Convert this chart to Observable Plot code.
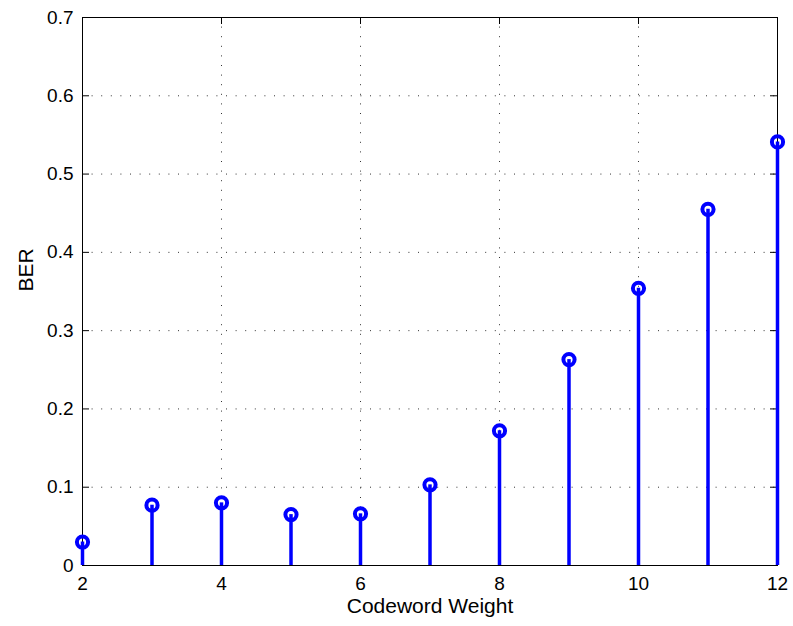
<!DOCTYPE html>
<html>
<head>
<meta charset="utf-8">
<script src="https://cdn.jsdelivr.net/npm/d3@7"></script>
<script src="https://cdn.jsdelivr.net/npm/@observablehq/plot@0.6"></script>
<style>
  html, body { margin: 0; padding: 0; background: #fff; }
  #chart { width: 793px; height: 626px; }
</style>
</head>
<body>
<div id="chart"></div>
<script>
// Codeword weight vs. bit error rate (stem plot)
const weights = [2, 3, 4, 5, 6, 7, 8, 9, 10, 11, 12];
const ber = [0.030, 0.077, 0.080, 0.065, 0.066, 0.103, 0.172, 0.263, 0.354, 0.455, 0.541];

const xTicks = [2, 4, 6, 8, 10, 12];
const yTicks = [0, 0.1, 0.2, 0.3, 0.4, 0.5, 0.6, 0.7];
const xLabel = "Codeword Weight";
const yLabel = "BER";

const data = weights.map((w, i) => ({w, ber: ber[i]}));

const W = 793, H = 626;
const mL = 82, mR = 16, mT = 17, mB = 61;
const frameH = H - mT - mB;
const frameW = W - mL - mR;
const tickLen = 7;
const blue = "#0000ff";
const font = "'Liberation Sans', Arial, Helvetica, sans-serif";

const chart = Plot.plot({
  width: W,
  height: H,
  marginLeft: mL,
  marginRight: mR,
  marginTop: mT,
  marginBottom: mB,
  style: {fontFamily: font, fontSize: "19px", color: "#000", background: "#fff"},
  x: {domain: [2, 12]},
  y: {domain: [0, 0.7]},
  marks: [
    // dotted grid
    Plot.gridX(xTicks, {stroke: "#000", strokeOpacity: 0.8, strokeDasharray: "1,8.6"}),
    Plot.gridY(yTicks, {stroke: "#000", strokeOpacity: 0.8, strokeDasharray: "1,8.6"}),
    // box
    Plot.frame({stroke: "#000", strokeWidth: 1}),
    // inward ticks on all four sides
    Plot.tickX(xTicks, {x: d => d, insetTop: frameH - tickLen, stroke: "#000"}),
    Plot.tickX(xTicks, {x: d => d, insetBottom: frameH - tickLen, stroke: "#000"}),
    Plot.tickY(yTicks, {y: d => d, insetRight: frameW - tickLen, stroke: "#000"}),
    Plot.tickY(yTicks, {y: d => d, insetLeft: frameW - tickLen, stroke: "#000"}),
    // tick labels
    Plot.axisX(xTicks, {tickSize: 0, tickPadding: 11, label: null, fontSize: 19}),
    Plot.axisY(yTicks, {tickSize: 0, tickPadding: 9, label: null, fontSize: 19,
      tickFormat: d => d === 0 ? "0" : d3.format(".1f")(d)}),
    // axis titles
    Plot.text([xLabel], {frameAnchor: "bottom", dy: 47, fontSize: 21, fill: "#000"}),
    Plot.text([yLabel], {frameAnchor: "left", dx: -56, rotate: -90, fontSize: 21, fill: "#000"}),
    // stems and hollow markers
    Plot.ruleX(data, {x: "w", y1: 0, y2: "ber", stroke: blue, strokeWidth: 3.5}),
    Plot.dot(data, {x: "w", y: "ber", r: 5.6, stroke: blue, strokeWidth: 4, fill: "none"})
  ]
});

document.getElementById("chart").appendChild(chart);
</script>
</body>
</html>
